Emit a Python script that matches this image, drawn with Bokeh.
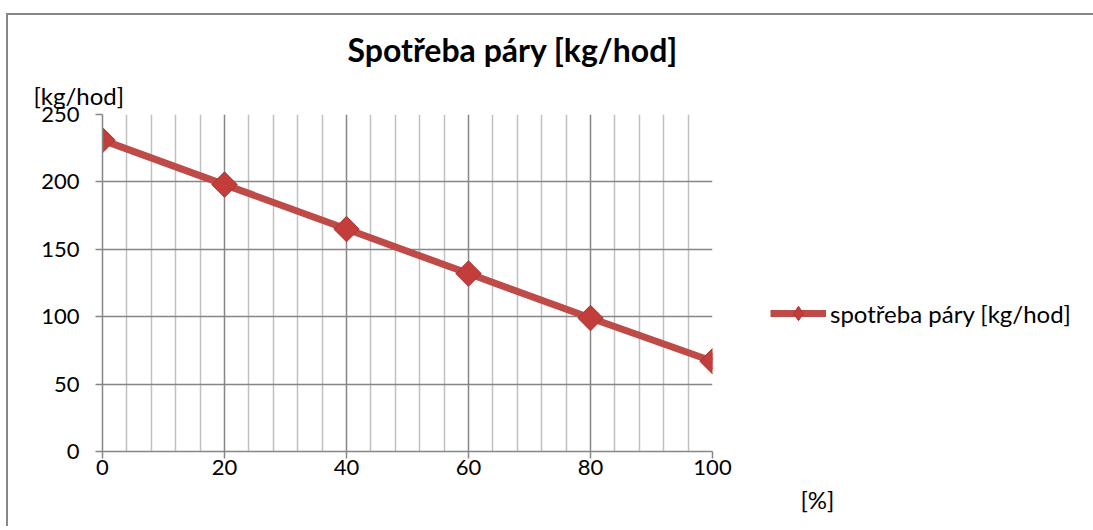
from bokeh.plotting import figure
from bokeh.models import (FixedTicker, Legend, LegendItem, Range1d, Title,
                          ColumnDataSource)
from bokeh.embed import file_html
from bokeh.resources import INLINE
import math

# data
x_vals = [0, 20, 40, 60, 80, 100]
y_vals = [231, 198, 165, 132, 99, 67]
x_ticks = [0, 20, 40, 60, 80, 100]
x_minor = [v for v in range(4, 100, 4) if v % 20 != 0]
y_ticks = [0, 50, 100, 150, 200, 250]
series_name = "spotřeba páry [kg/hod]"
title_text = "Spotřeba páry [kg/hod]"
y_unit = "[kg/hod]"
x_unit = "[%]"

FONT = "Lato"
GRID_MAJOR = "#868686"
GRID_MINOR = "#c0c0c0"
RED = "#be4b48"
BORDER = "#878787"


def make_title(text, offset, size, style):
    return Title(text=text, align="left", offset=offset, text_font=FONT,
                 text_font_size=size, text_font_style=style, text_color="#000000")


p = figure(title=None, frame_width=610, frame_height=337, output_backend="svg",
           toolbar_location=None,
           x_range=Range1d(0, 100), y_range=Range1d(0, 250),
           min_border_left=94, min_border_right=8,
           min_border_top=99, min_border_bottom=75)
p.styles = {"border-left": "2px solid " + BORDER, "border-top": "2px solid " + BORDER,
            "border-right": "2px solid " + BORDER,
            "margin-top": "13px", "margin-left": "6px"}
p.outline_line_color = None
p.background_fill_color = "white"
p.border_fill_color = "white"

for ax in (p.xaxis[0], p.yaxis[0]):
    ax.axis_line_color = GRID_MAJOR
    ax.axis_line_width = 1.5
    ax.major_tick_line_color = GRID_MAJOR
    ax.major_tick_line_width = 1.5
    ax.major_tick_out = 7
    ax.major_tick_in = 0
    ax.minor_tick_line_color = None
    ax.major_label_text_font = FONT
    ax.major_label_text_font_size = "22px"
    ax.major_label_text_color = "#000000"

p.xaxis.ticker = FixedTicker(ticks=x_ticks, minor_ticks=x_minor)
p.yaxis.ticker = FixedTicker(ticks=y_ticks)
p.xaxis.major_label_standoff = 1
p.yaxis.major_label_standoff = 16

p.xgrid.grid_line_color = GRID_MAJOR
p.xgrid.grid_line_width = 1.5
p.xgrid.minor_grid_line_color = GRID_MINOR
p.xgrid.minor_grid_line_width = 1.5
p.ygrid.grid_line_color = GRID_MAJOR
p.ygrid.grid_line_width = 1.5

src = ColumnDataSource(dict(x=x_vals, y=y_vals))
line = p.line("x", "y", source=src, line_color=RED, line_width=7)
# diamond used for the legend glyph; fully covered by the rotated squares below
leg_marker = p.scatter("x", "y", source=src, marker="diamond", size=16,
                       fill_color="#c33e3b", line_color="#a83533", line_width=1)
pts = p.scatter("x", "y", source=src, marker="square", size=18, angle=math.pi / 4,
                fill_color="#c33e3b", line_color="#a83533", line_width=1)

legend = Legend(items=[LegendItem(label=series_name, renderers=[line, leg_marker])],
                location=(58, 120), padding=0, margin=0, spacing=0,
                border_line_color=None, background_fill_alpha=0,
                glyph_width=56, glyph_height=36, label_standoff=4,
                label_text_font=FONT, label_text_font_size="24px",
                label_text_color="#000000")
p.add_layout(legend, "right")

# top texts: unit label (nearest to frame) and chart title
p.add_layout(make_title(y_unit, -69, "24px", "normal"), "above")
p.add_layout(make_title(title_text, 245, "32px", "bold"), "above")

# x unit label below the axis
p.add_layout(make_title(x_unit, 698, "24px", "normal"), "below")

open("out.html", "w").write(file_html(p, INLINE))
